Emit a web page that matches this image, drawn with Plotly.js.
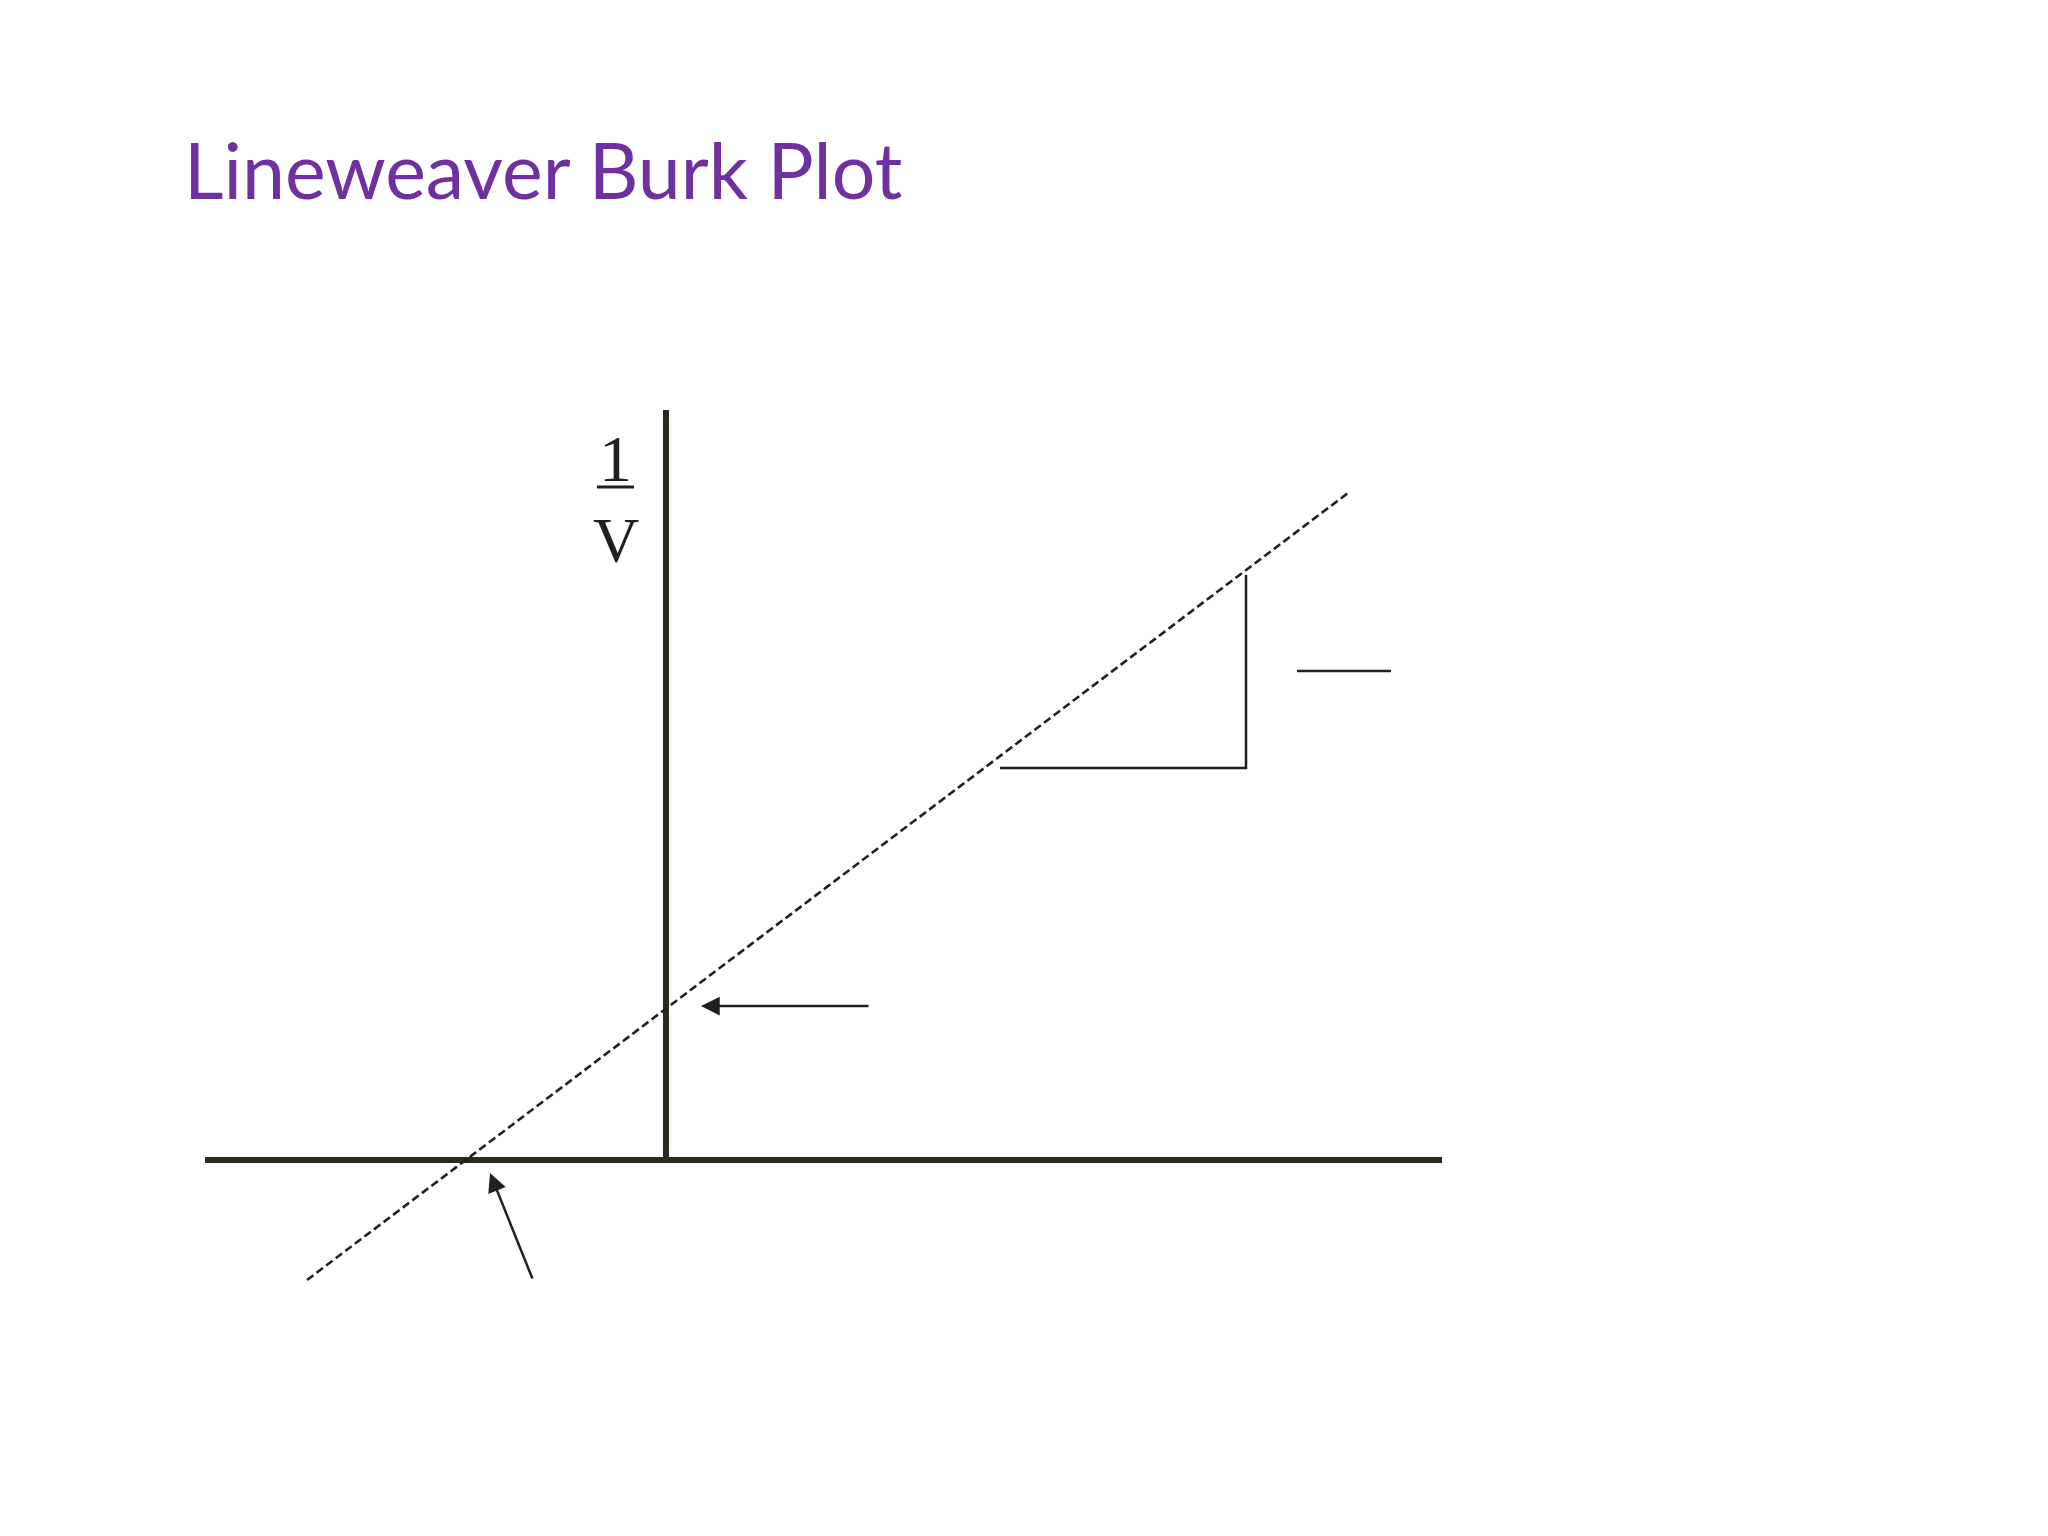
<!DOCTYPE html>
<html>
<head>
<meta charset="utf-8">
<script src="https://cdn.plot.ly/plotly-3.0.1.min.js"></script>
<style>html,body{margin:0;padding:0;background:#fff;}#chart{width:2048px;height:1536px;}</style>
</head>
<body>
<div id="chart"></div>
<script>
// Schematic Lineweaver-Burk plot, in abstract plot units (origin where the axes cross)
const titleText = "Lineweaver Burk Plot";
const yLabelNum = "1";
const yLabelDen = "V";

// axes (1/[S] horizontal, 1/V vertical)
const xAxisX = [-4.61, 7.76];
const xAxisY = [0, 0];
const yAxisX = [0, 0];
const yAxisY = [0, 7.50];

// dashed regression line through -1/Km and 1/Vmax
const fitX = [-3.59, 6.82];
const fitY = [-1.20, 6.67];

// slope triangle
const triX = [3.34, 5.80, 5.80];
const triY = [3.92, 3.92, 5.85];

// short line to the right of the triangle (slope label bar)
const slopeBarX = [6.31, 7.25];
const slopeBarY = [4.89, 4.89];

// fraction bar of the 1/V label
const fracBarX = [-0.69, -0.32];
const fracBarY = [6.73, 6.73];

// arrows: [tailX, tailY, tipX, tipY]
const arrowYint = [2.04, 1.54, 0.35, 1.54];
const arrowXint = [-1.33, -1.20, -1.76, -0.13];

const axisColor = "#2a2a1e";
const inkColor = "#231f20";

const traces = [
  {x: xAxisX, y: xAxisY, mode: "lines", line: {color: axisColor, width: 6}, hoverinfo: "skip"},
  {x: yAxisX, y: yAxisY, mode: "lines", line: {color: axisColor, width: 6}, hoverinfo: "skip"},
  {x: fitX, y: fitY, mode: "lines", line: {color: inkColor, width: 2.6, dash: "8px,4px"}, hoverinfo: "skip"},
  {x: triX, y: triY, mode: "lines", line: {color: inkColor, width: 2.5}, hoverinfo: "skip"},
  {x: slopeBarX, y: slopeBarY, mode: "lines", line: {color: inkColor, width: 2.5}, hoverinfo: "skip"},
  {x: fracBarX, y: fracBarY, mode: "lines", line: {color: inkColor, width: 3}, hoverinfo: "skip"}
];

function arrow(a) {
  return {
    x: a[2], y: a[3], ax: a[0], ay: a[1],
    xref: "x", yref: "y", axref: "x", ayref: "y",
    text: "", showarrow: true, arrowhead: 2, arrowsize: 1.5, arrowwidth: 2.5,
    arrowcolor: inkColor, standoff: 0, startstandoff: 0
  };
}

const layout = {
  width: 2048, height: 1536,
  margin: {l: 0, r: 0, t: 0, b: 0},
  paper_bgcolor: "#ffffff", plot_bgcolor: "#ffffff",
  showlegend: false,
  title: {
    text: titleText,
    font: {family: "Lato", size: 77, color: "#7030A0"},
    xref: "container", yref: "container",
    x: 184 / 2048, xanchor: "left",
    y: 1 - 172 / 1536, yanchor: "middle"
  },
  xaxis: {range: [-6.66, 13.82], visible: false, fixedrange: true},
  yaxis: {range: [-3.76, 11.60], visible: false, fixedrange: true},
  annotations: [
    arrow(arrowYint),
    arrow(arrowXint),
    {x: -0.51, y: 7.02, xref: "x", yref: "y", text: yLabelNum, showarrow: false,
     font: {family: "Liberation Serif", size: 66, color: inkColor}, xanchor: "center", yanchor: "middle"},
    {x: -0.50, y: 6.20, xref: "x", yref: "y", text: yLabelDen, showarrow: false,
     font: {family: "Liberation Serif", size: 64, color: inkColor}, xanchor: "center", yanchor: "middle"}
  ]
};

Plotly.newPlot("chart", traces, layout, {staticPlot: true, displayModeBar: false});
</script>
</body>
</html>
